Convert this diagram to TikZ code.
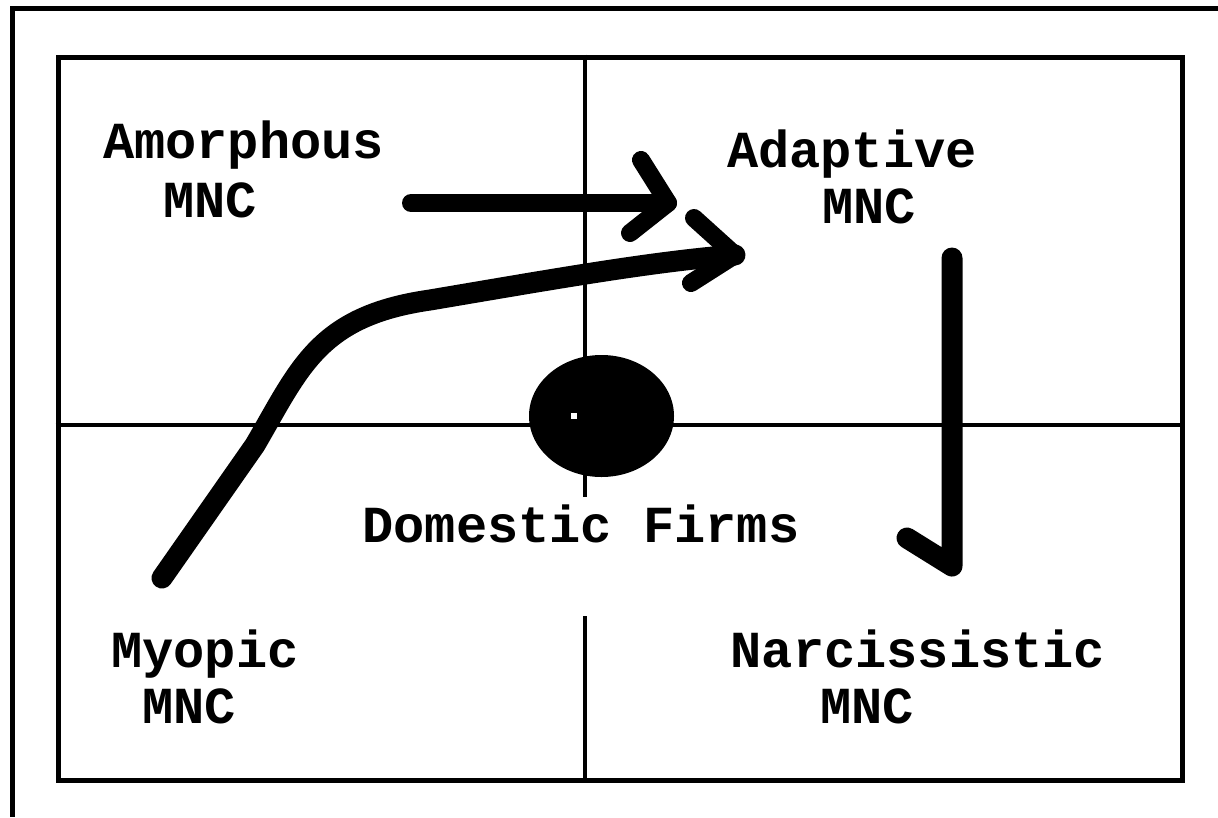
\documentclass[tikz,border=0pt]{standalone}
\usepackage{fontspec}
\setmonofont{Liberation Mono}
\usetikzlibrary{shapes.geometric}
\begin{document}
\begin{tikzpicture}[x=1pt,y=-1pt,
  frame/.style={line width=4.5pt},
  divider/.style={line width=4.3pt},
  fat/.style={line width=18pt,line cap=round,line join=round},
  lbl/.style={font=\ttfamily\bfseries\fontsize{52}{52}\selectfont,inner sep=0pt,anchor=base}]
\useasboundingbox (0,0) rectangle (1218,817);
% outer partial frame
\draw[frame] (1218,8.7) -- (12.5,8.7) -- (12.5,817);
% inner box
\node[draw,line width=5pt,minimum width=1124pt,minimum height=723.5pt,inner sep=0pt,anchor=north west] (box) at (55.5,54.5) {};
% dividers
\draw[divider] (box.west |- 0,425) -- (box.east |- 0,425);
\draw[divider] (585,54.5) -- (585,497);
\draw[divider] (585,616) -- (585,778);
% domestic firms blob
\node[fill=black,ellipse,minimum width=145pt,minimum height=122pt,inner sep=0pt] (dom) at (601.5,416) {};
\fill[white] (571,413) rectangle (577,419);
% labels
\node[lbl] (amo) at (243.5,158) {Amorphous};
\node[lbl] (amoM) at (210,217) {MNC};
\node[lbl] (ada) at (852,167) {Adaptive};
\node[lbl] (adaM) at (869,223) {MNC};
\node[lbl] (domt) at (581,542) {Domestic Firms};
\node[lbl] (myo) at (205,667) {Myopic};
\node[lbl] (myoM) at (189,723) {MNC};
\node[lbl] (nar) at (918,667) {Narcissistic};
\node[lbl] (narM) at (867,723) {MNC};
% arrow 1: amorphous -> adaptive
\coordinate (a1s) at (411,203);
\coordinate (a1e) at (668,203);
\draw[fat,line width=18pt] (a1s) -- (a1e);
\draw[fat,line width=18pt] (641,160) -- (a1e) -- (630,233);
% arrow 2: myopic -> adaptive (curve)
\coordinate (a2s) at (162,578);
\coordinate (a2e) at (735,255);
\draw[fat,line width=21pt] (a2s) -- (255,445) .. controls (300,368) and (318,316) .. (430,300) .. controls (560,278) and (650,262) .. (a2e);
\draw[fat,line width=18pt] (694,218) -- (a2e) -- (691,283);
% arrow 3: adaptive -> narcissistic
\coordinate (a3s) at (952,258);
\coordinate (a3e) at (952,566);
\draw[fat,line width=21pt] (a3s) -- (a3e) -- (907,538);
\end{tikzpicture}
\end{document}
